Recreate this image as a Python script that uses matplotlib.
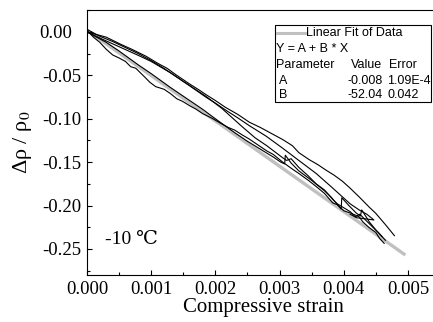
import matplotlib

matplotlib.use("Agg")
import matplotlib.pyplot as plt  # noqa: E402
from matplotlib.patches import Rectangle  # noqa: E402
from matplotlib.lines import Line2D  # noqa: E402
from matplotlib.ticker import MultipleLocator  # noqa: E402
from matplotlib.transforms import ScaledTranslation  # noqa: E402

plt.rcParams["font.family"] = ["Liberation Serif", "DejaVu Serif"]
plt.rcParams["mathtext.fontset"] = "stix"

# ---------------------------------------------------------------------------
# data
# ---------------------------------------------------------------------------
fit_x = [0.0, 0.00496]
fit_y = [0.002, -0.257]

# lower loading branch (below the fit at first)
c1_x = [0.0, 0.0001, 0.0002, 0.0003, 0.0004, 0.0005, 0.0006, 0.00068, 0.00076,
        0.0009, 0.00098, 0.00107, 0.0012, 0.0013, 0.0014, 0.00149, 0.0016,
        0.0017, 0.0018, 0.00195, 0.0021, 0.0022, 0.0023, 0.00242, 0.00252,
        0.00262, 0.0028, 0.0029, 0.00305, 0.0032, 0.0033, 0.00345, 0.00357,
        0.0037, 0.00383, 0.0039, 0.0040, 0.00412, 0.00424, 0.0043, 0.00439,
        0.0045, 0.00456, 0.00463]
c1_y = [0.002, -0.006, -0.012, -0.020, -0.0265, -0.030, -0.034, -0.040, -0.0418,
        -0.052, -0.058, -0.063, -0.066, -0.071, -0.077, -0.080, -0.085,
        -0.089, -0.094, -0.0995, -0.106, -0.110, -0.113, -0.1187, -0.123,
        -0.128, -0.137, -0.141, -0.150, -0.158, -0.163, -0.171, -0.178,
        -0.186, -0.197, -0.199, -0.206, -0.209, -0.213, -0.219, -0.225,
        -0.231, -0.238, -0.2435]

# nearly straight branch lying on the fit, with small jumps near the end
c2_x = [0.0, 0.0003, 0.0005, 0.0008, 0.001, 0.0013, 0.0015, 0.0018, 0.002,
        0.0023, 0.0025, 0.0027, 0.0029, 0.00302, 0.00308, 0.00309, 0.00318,
        0.0033, 0.0035, 0.0037, 0.0038, 0.00396, 0.00397, 0.00408, 0.0042,
        0.00426, 0.00428, 0.0044, 0.0045, 0.0046]
c2_y = [0.0, -0.012, -0.022, -0.038, -0.048, -0.064, -0.074, -0.089, -0.100,
        -0.116, -0.126, -0.135, -0.144, -0.150, -0.152, -0.142, -0.151,
        -0.160, -0.171, -0.183, -0.190, -0.204, -0.191, -0.200, -0.209,
        -0.212, -0.205, -0.219, -0.228, -0.236]

# upper unloading branch, ends highest
c3_x = [0.0, 0.00015, 0.0003, 0.00052, 0.0007, 0.00092, 0.0011, 0.00125,
        0.00138, 0.0015, 0.0016, 0.00175, 0.00185, 0.002, 0.00216, 0.00235,
        0.00253, 0.0027, 0.0028, 0.0029, 0.00305, 0.0032, 0.0033, 0.00346,
        0.0036, 0.00372, 0.00385, 0.00398, 0.0041, 0.00424, 0.0044, 0.0045,
        0.00465, 0.00479]
c3_y = [0.0, -0.003, -0.006, -0.014, -0.020, -0.028, -0.036, -0.042,
        -0.049, -0.055, -0.060, -0.067, -0.072, -0.079, -0.087, -0.095,
        -0.104, -0.110, -0.114, -0.118, -0.124, -0.131, -0.139, -0.147,
        -0.153, -0.159, -0.165, -0.172, -0.180, -0.190, -0.202, -0.209,
        -0.222, -0.2347]

# second upper branch, with a short turn-back at its end
c4_x = [0.0, 0.0002, 0.0004, 0.0006, 0.0008, 0.001, 0.0012, 0.00138, 0.0016,
        0.00185, 0.002, 0.00216, 0.00235, 0.00253, 0.00279, 0.00305, 0.0033,
        0.00357, 0.0038, 0.00398, 0.0041, 0.00424, 0.00436, 0.00447, 0.0042,
        0.0041]
c4_y = [0.003, -0.005, -0.011, -0.018, -0.025, -0.033, -0.042, -0.051, -0.062,
        -0.075, -0.082, -0.090, -0.099, -0.108, -0.120, -0.134, -0.148,
        -0.163, -0.178, -0.190, -0.198, -0.205, -0.210, -0.2166, -0.214,
        -0.210]

# branch that starts with the upper ones and drops into the lower bundle
c5_x = [0.0, 0.0002, 0.0005, 0.0008, 0.001, 0.0013, 0.0015, 0.00185, 0.0021,
        0.0024, 0.00262, 0.0028, 0.00305, 0.00311, 0.00318, 0.0033, 0.00345,
        0.00357, 0.0037, 0.00383, 0.0039, 0.0041, 0.00418, 0.00425, 0.0044,
        0.00455, 0.00465]
c5_y = [0.0, -0.007, -0.017, -0.027, -0.034, -0.047, -0.057, -0.074, -0.088,
        -0.108, -0.122, -0.131, -0.145, -0.148, -0.146, -0.156, -0.166,
        -0.175, -0.182, -0.193, -0.198, -0.207, -0.213, -0.210, -0.221,
        -0.232, -0.240]

curves = [(c1_x, c1_y), (c2_x, c2_y), (c3_x, c3_y), (c4_x, c4_y), (c5_x, c5_y)]

x_ticks = [0.000, 0.001, 0.002, 0.003, 0.004, 0.005]
y_ticks = [0.00, -0.05, -0.10, -0.15, -0.20, -0.25]

fit_label = "Linear Fit of Data"
fit_eq = "Y = A + B * X"
table_header = ["Parameter", "Value", "Error"]
table_rows = [["A", "-0.008", "1.09E-4"], ["B", "-52.04", "0.042"]]

# ---------------------------------------------------------------------------
# figure
# ---------------------------------------------------------------------------
W, H = 433, 322
fig = plt.figure(figsize=(W / 100, H / 100), dpi=100)
ax = fig.add_axes([87 / W, 47 / H, 353 / W, 265 / H])

ax.plot(fit_x, fit_y, color="#c0c0c0", lw=2.4, solid_capstyle="butt", zorder=1)
for cx, cy in curves:
    ax.plot(cx, cy, color="black", lw=0.8, zorder=2)

ax.set_xlim(0, 0.0055)
ax.set_ylim(-0.280, 0.0253)
ax.set_xticks(x_ticks)
ax.set_xticklabels([f"{v:.3f}" for v in x_ticks])
ax.set_yticks(y_ticks)
ax.set_yticklabels([f"{v:.2f}" for v in y_ticks])
ax.xaxis.set_minor_locator(MultipleLocator(0.0005))
ax.yaxis.set_minor_locator(MultipleLocator(0.025))
ax.tick_params(which="both", direction="in", labelsize=13.5, width=0.8)
ax.tick_params(which="major", length=3.5)
ax.tick_params(which="minor", length=2)
ax.tick_params(axis="x", pad=4)
ax.tick_params(axis="y", pad=4)
for sp in ax.spines.values():
    sp.set_linewidth(0.8)

# the "0.00" label sits a little left of the others in the reference
zero_lbl = ax.yaxis.get_major_ticks()[0].label1
zero_lbl.set_transform(zero_lbl.get_transform()
                       + ScaledTranslation(-9 / 100, 0, fig.dpi_scale_trans))

ax.set_xlabel("Compressive strain", fontsize=15, labelpad=0)
ax.set_ylabel("\u0394\u03c1 / \u03c1$_0$", fontsize=16, labelpad=4)

ax.text(0.0007, -0.2396, "-10 \u2103", fontsize=14, ha="center", va="center",
        family=["Liberation Serif", "DejaVu Serif", "DejaVu Sans"])


# fit-result box, placed in pixel coordinates of the figure
def fx(px):
    return px / W


def fy(py):
    return 1 - py / H


fig.patches.append(Rectangle((fx(275), fy(101.7)), fx(430.5) - fx(275),
                             fy(25) - fy(101.7), transform=fig.transFigure,
                             fill=False, edgecolor="black", lw=0.8))
fig.lines.append(Line2D([fx(277), fx(305)], [fy(33), fy(33)],
                        transform=fig.transFigure, color="#c0c0c0", lw=2.2))
sans = dict(family=["Liberation Sans", "DejaVu Sans"], fontsize=9, va="center")
fig.text(fx(306), fy(33), fit_label, ha="left", **sans)
fig.text(fx(276), fy(49), fit_eq, ha="left", **sans)
fig.text(fx(276), fy(65), table_header[0], ha="left", **sans)
fig.text(fx(351), fy(65), table_header[1], ha="left", **sans)
fig.text(fx(389), fy(65), table_header[2], ha="left", **sans)
for i, (name, val, err) in enumerate(table_rows):
    yy = fy(80.5 + 14.5 * i)
    fig.text(fx(279), yy, name, ha="left", **sans)
    fig.text(fx(383), yy, val, ha="right", **sans)
    fig.text(fx(387), yy, err, ha="left", **sans)

fig.savefig("out.png", dpi=100)
